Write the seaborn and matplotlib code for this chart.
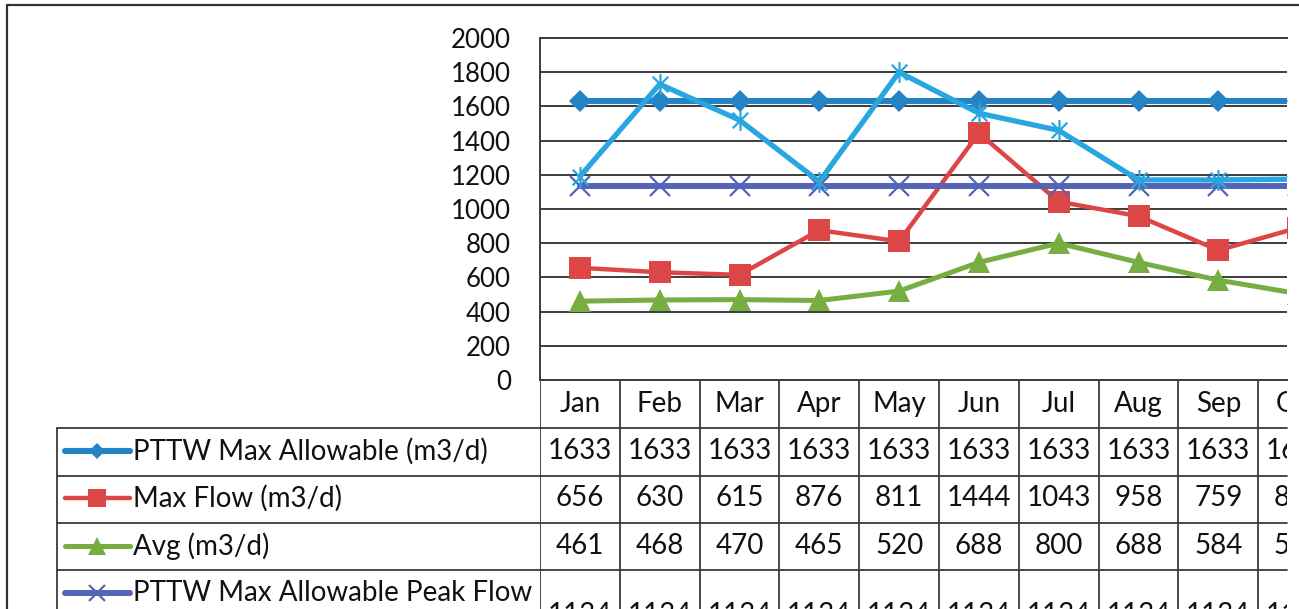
import numpy as np
import matplotlib
matplotlib.use("Agg")
import matplotlib.pyplot as plt
import seaborn as sns
from matplotlib.path import Path
from matplotlib.lines import Line2D

# ---------------- data ----------------
months = ["Jan", "Feb", "Mar", "Apr", "May", "Jun", "Jul", "Aug", "Sep", "Oct"]
pttw_max = [1633, 1633, 1633, 1633, 1633, 1633, 1633, 1633, 1633, 1633]
max_flow = [656, 630, 615, 876, 811, 1444, 1043, 958, 759, 890]
avg_flow = [461, 468, 470, 465, 520, 688, 800, 688, 584, 505]
pttw_peak = [1134, 1134, 1134, 1134, 1134, 1134, 1134, 1134, 1134, 1134]
peak_flow = [1190, 1730, 1520, 1160, 1800, 1560, 1460, 1170, 1170, 1175]
y_ticks = [0, 200, 400, 600, 800, 1000, 1200, 1400, 1600, 1800, 2000]

row_labels = ["PTTW Max Allowable (m3/d)", "Max Flow (m3/d)", "Avg (m3/d)",
              "PTTW Max Allowable Peak Flow\n(m3/d)"]
row_values = [pttw_max, max_flow, avg_flow, pttw_peak]

# ---------------- style ----------------
sns.set_style("white")
plt.rcParams["font.family"] = ["Lato", "DejaVu Sans"]
FS = 20
FS_TICK = 18.6
TXT = "#111111"
GRID = "#3c3c3c"

star = Path([(0, -1), (0, 1), (-0.75, -0.75), (0.75, 0.75), (-0.75, 0.75), (0.75, -0.75)],
            [Path.MOVETO, Path.LINETO, Path.MOVETO, Path.LINETO, Path.MOVETO, Path.LINETO])

styles = [
    dict(color="#2483c5", lw=4.4, marker="D", ms=10.8, mew=0),
    dict(color="#dc4646", lw=3.2, marker="s", ms=16, mew=0),
    dict(color="#76ae42", lw=3.6, marker="^", ms=16, mew=0),
    dict(color="#5564b6", lw=4.3, marker="x", ms=15, mew=1.6),
    dict(color="#28a6df", lw=3.8, marker=star, ms=15, mew=1.6),
]
series = [pttw_max, max_flow, avg_flow, pttw_peak, peak_flow]

W, H = 1299, 609
fig = plt.figure(figsize=(W / 100, H / 100), dpi=100)
fig.patch.set_facecolor("white")

L, R, T, B = 540, 1287, 38, 380
colw = 79.8
ax = fig.add_axes([L / W, 1 - B / H, (R - L) / W, (B - T) / H])
x = np.arange(len(months))
for i, (vals, st) in enumerate(zip(series, styles)):
    sns.lineplot(x=x, y=vals, ax=ax, color=st["color"], lw=st["lw"], marker=st["marker"],
                 markersize=st["ms"], markeredgewidth=st["mew"], markeredgecolor=st["color"],
                 markerfacecolor=st["color"], zorder=3 + i)
ax.set_xlim(-0.5, -0.5 + (R - L) / colw)
ax.set_ylim(0, 2000)
ax.set_yticks(y_ticks)
ax.set_xticks([])
ax.set_xlabel("")
ax.set_ylabel("")
ax.tick_params(axis="y", length=0, pad=21, labelsize=FS_TICK, labelcolor=TXT)
ax.grid(axis="y", color=GRID, lw=1.4)
ax.grid(axis="x", visible=False)
for s in ["left", "top", "bottom"]:
    ax.spines[s].set_color(GRID)
    ax.spines[s].set_linewidth(1.4)
ax.spines["right"].set_visible(False)
if ax.get_legend():
    ax.get_legend().remove()

# ---------------- data table ----------------
TB = 700
tax = fig.add_axes([L / W, 1 - TB / H, (R - L) / W, (TB - B) / H], sharex=ax)
tax.set_ylim(TB, B)
tax.axis("off")

def px2d(px):
    return (px - L) / colw - 0.5

xr = -0.5 + (R - L) / colw
xl = px2d(57)
row_lines = [428, 476, 523, 570]
for yl in row_lines:
    tax.plot([xl, xr], [yl, yl], color=GRID, lw=1.3, clip_on=False)
tax.plot([xl, xl], [428, TB], color=GRID, lw=1.3, clip_on=False)
for i in range(len(months) + 1):
    tax.plot([i - 0.5, i - 0.5], [B, TB], color=GRID, lw=1.3)

for i, m in enumerate(months):
    tax.text(i, 404, m, ha="center", va="center", fontsize=FS, color=TXT, clip_on=True)

row_cy = [451, 498, 546, 615]
for r, (lab, vals, cy) in enumerate(zip(row_labels, row_values, row_cy)):
    for i, v in enumerate(vals):
        tax.text(i, cy, f"{v}", ha="center", va="center", fontsize=FS, color=TXT, clip_on=True)
    st = styles[r]
    ky = cy if r < 3 else 593
    tax.plot([px2d(65), px2d(130)], [ky, ky], color=st["color"], lw=st["lw"], clip_on=False)
    tax.plot([px2d(97)], [ky], color=st["color"], marker=st["marker"], ms=st["ms"] * 0.8,
             mew=st["mew"], mec=st["color"], mfc=st["color"], clip_on=False)
    tax.text(px2d(133), ky, lab.split("\n")[0], ha="left", va="center",
             fontsize=FS, color=TXT, clip_on=False)

# outer border
fig.add_artist(Line2D([7 / W, 7 / W], [0, 1 - 5 / H], transform=fig.transFigure, color="#333333", lw=1.6))
fig.add_artist(Line2D([7 / W, 1], [1 - 5 / H, 1 - 5 / H], transform=fig.transFigure, color="#333333", lw=1.6))

fig.savefig("out.png", dpi=100, facecolor="white")
